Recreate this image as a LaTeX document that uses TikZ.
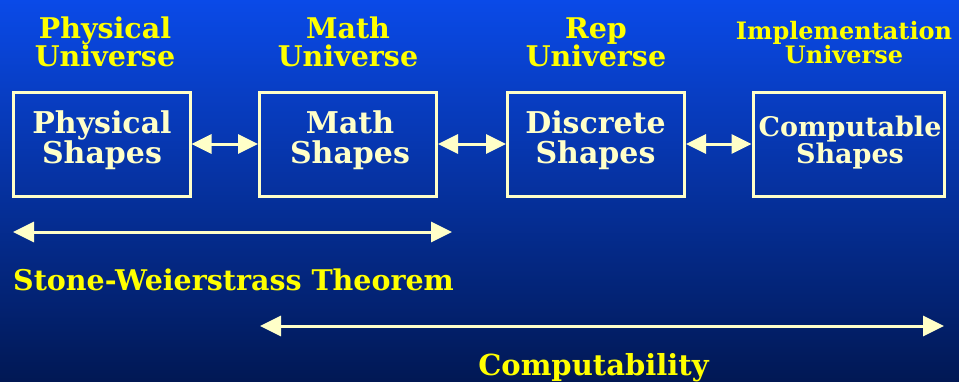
\documentclass[tikz,border=0pt]{standalone}
\usepackage{fontspec}
\setmainfont{DejaVu Serif}
\usetikzlibrary{arrows.meta}
\definecolor{cream}{RGB}{255,255,200}
\definecolor{hdr}{RGB}{255,255,0}
\definecolor{bgtop}{RGB}{10,74,232}
\definecolor{bgbot}{RGB}{1,24,84}
\begin{document}
\begin{tikzpicture}[x=1pt,y=-1pt,
  box/.style={draw=cream, line width=3pt, minimum width=#1, minimum height=104pt, inner sep=0pt},
  box/.default=177pt,
  boxtext/.style={text=cream, align=center, inner sep=0pt, font=\bfseries\fontsize{30}{30}\selectfont},
  hdrtext/.style={text=hdr, align=center, inner sep=0pt, font=\bfseries\fontsize{28.5}{28}\selectfont},
  link/.style={draw=cream, line width=3pt, {Triangle[length=20pt,width=19pt]}-{Triangle[length=20pt,width=19pt]}},
  longlink/.style={draw=cream, line width=3pt, {Triangle[length=21pt,width=20pt]}-{Triangle[length=21pt,width=20pt]}}
]
\shade[top color=bgtop,bottom color=bgbot] (0,0) rectangle (959,381);
\useasboundingbox (0,0) rectangle (959,381);

\node[hdrtext] (h1) at (105,41.5) {Physical\\Universe};
\node[hdrtext] (h2) at (348,41.5) {Math\\Universe};
\node[hdrtext] (h3) at (596,42) {Rep\\Universe};
\node[hdrtext, font=\bfseries\fontsize{24}{24}\selectfont] (h4) at (844,43) {Implementation\\Universe};

\node[box] (b1) at (101.5,144) {};
\node[box] (b2) at (348,144) {};
\node[box] (b3) at (596,144) {};
\node[box=191pt] (b4) at (848.5,144) {};

\node[boxtext] (t1) at (102,140.2) {Physical\\Shapes};
\node[boxtext] (t2) at (350,140.2) {Math\\Shapes};
\node[boxtext] (t3) at (595.5,140.2) {Discrete\\Shapes};
\node[boxtext, font=\bfseries\fontsize{27}{27}\selectfont] (t4) at (850,143) {Computable\\Shapes};

\draw[link] (b1.east) -- (b2.west);
\draw[link] (b2.east) -- (b3.west);
\draw[link] (b3.east) -- (b4.west);

\coordinate (s1) at (13,232);
\coordinate (s2) at (452,232);
\draw[longlink] (s1) -- (s2);
\node[hdrtext, anchor=west] (st) at (13,279.5) {Stone-Weierstrass Theorem};

\coordinate (c1) at (260,326);
\coordinate (c2) at (944,326);
\draw[longlink] (c1) -- (c2);
\node[hdrtext, font=\bfseries\fontsize{29}{29}\selectfont] (ct) at (593.5,368) {Computability};
\end{tikzpicture}
\end{document}
